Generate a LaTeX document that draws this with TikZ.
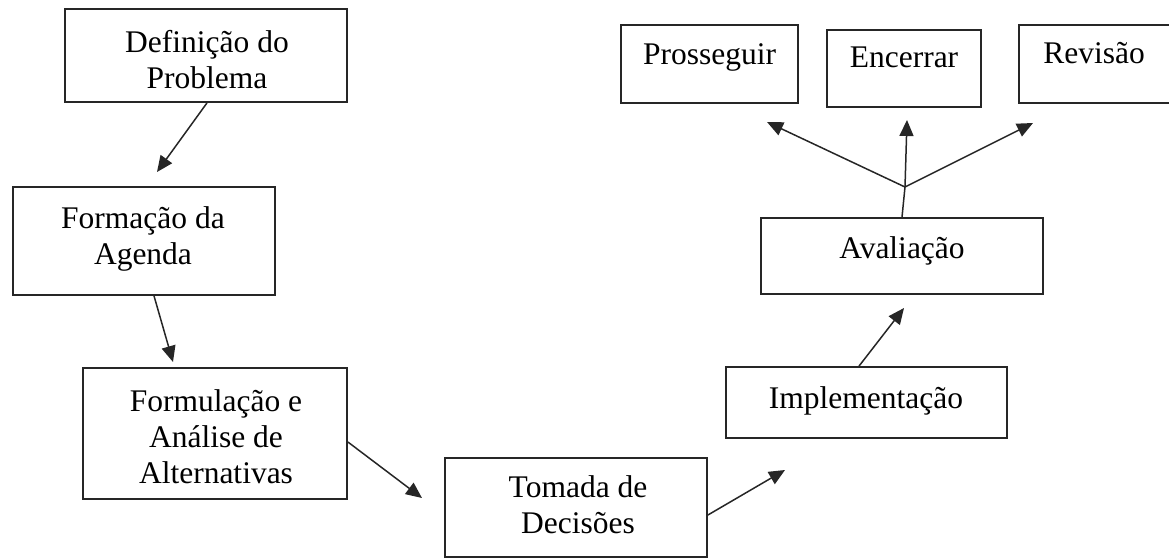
\documentclass[tikz,border=0pt]{standalone}
\usepackage{fontspec}
\setmainfont{Liberation Serif}
\usetikzlibrary{arrows.meta}
\begin{document}
\begin{tikzpicture}[x=1pt,y=-1pt,
  box/.style={draw=black!85,line width=1.8pt,rectangle,inner sep=0pt},
  txt/.style={inner sep=0pt,anchor=base,align=center,font=\fontsize{31.5}{36}\selectfont},
  arr/.style={draw=black!85,line width=1.5pt,-{Triangle[length=16pt,width=14pt]}},
  ln/.style={draw=black!85,line width=1.5pt}]
\useasboundingbox (0,0) rectangle (1169,559);
\clip (0,0) rectangle (1169,559);
% boxes
\node[box,minimum width=282pt,minimum height=93pt] (def) at (206,55.5) {};
\node[box,minimum width=262pt,minimum height=108pt] (agenda) at (144,241) {};
\node[box,minimum width=264pt,minimum height=131pt] (form) at (215,433.5) {};
\node[box,minimum width=262pt,minimum height=99pt] (toma) at (576,507.5) {};
\node[box,minimum width=281pt,minimum height=71pt] (impl) at (866.5,402.5) {};
\node[box,minimum width=282pt,minimum height=76pt] (aval) at (902,256) {};
\node[box,minimum width=177pt,minimum height=78pt] (pros) at (709.5,64) {};
\node[box,minimum width=154pt,minimum height=77pt] (ence) at (904,68.5) {};
\node[box,minimum width=160pt,minimum height=78pt] (revi) at (1099,64) {};
% texts (base anchor = baseline of the last line)
\node[txt] (def-t) at (207,89) {Definição do\\Problema};
\node[txt] (agenda-t) at (143,264) {Formação da\\Agenda};
\node[txt] (form-t) at (216,483) {Formulação e\\Análise de\\Alternativas};
\node[txt] (toma-t) at (578,533) {Tomada de\\Decisões};
\node[txt] (impl-t) at (866,408) {Implementação};
\node[txt] (aval-t) at (902,258) {Avaliação};
\node[txt] (pros-t) at (709.5,65) {Prosseguir};
\node[txt] (ence-t) at (904,68) {Encerrar};
\node[txt] (revi-t) at (1094,64) {Revisão};
% arrow tips and junction
\coordinate (tip1) at (157,172);
\coordinate (tip2) at (173,362);
\coordinate (tip3) at (422,498);
\coordinate (tip4) at (785,470);
\coordinate (tip5) at (904,308);
\coordinate (j) at (905,187);
\coordinate (tipP) at (767,122);
\coordinate (tipE) at (907,120);
\coordinate (tipR) at (1033,123);
% connectors
\draw[arr] ([xshift=1pt]def.south) -- (tip1);
\draw[arr] ([xshift=10pt]agenda.south) -- (tip2);
\draw[arr] ([yshift=-8.5pt]form.east) -- (tip3);
\draw[arr] ([yshift=-7.5pt]toma.east) -- (tip4);
\draw[arr] ([xshift=-7.5pt]impl.north) -- (tip5);
\draw[ln] (aval.north) -- (j);
\draw[arr] (j) -- (tipP);
\draw[arr] (j) -- (tipE);
\draw[arr] (j) -- (tipR);
\end{tikzpicture}
\end{document}
